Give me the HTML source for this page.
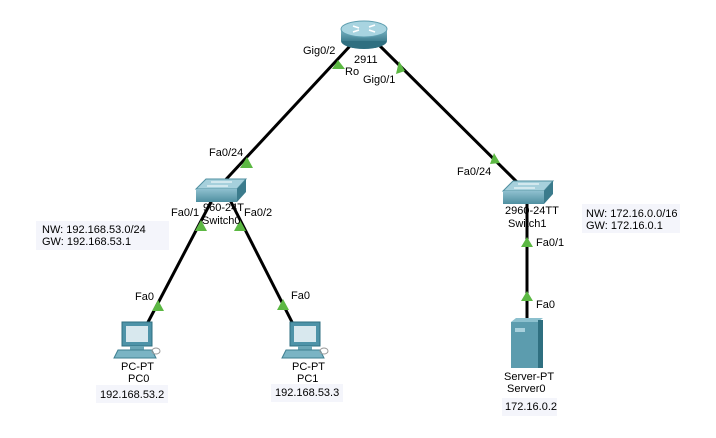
<!DOCTYPE html>
<html><head><meta charset="utf-8"><style>
html,body{margin:0;padding:0;background:#fff;}
svg{display:block;}
text{font-family:"Liberation Sans",Arial,sans-serif;font-size:11px;fill:#000;}
</style></head><body>
<svg width="716" height="438" viewBox="0 0 716 438" xmlns="http://www.w3.org/2000/svg">
<defs>
<linearGradient id="rt" x1="0" y1="0" x2="0" y2="1"><stop offset="0" stop-color="#7fb6c6"/><stop offset="1" stop-color="#3f7f90"/></linearGradient>
<linearGradient id="sw" x1="0" y1="0" x2="0" y2="1"><stop offset="0" stop-color="#8fc0cf"/><stop offset="1" stop-color="#4f8fa0"/></linearGradient>
</defs>
<g stroke="#000" stroke-width="3" fill="none">
<line x1="350" y1="46" x2="218" y2="188"/>
<line x1="380" y1="46" x2="527" y2="192"/>
<line x1="212" y1="200" x2="146" y2="326"/>
<line x1="230" y1="200" x2="294" y2="326"/>
<line x1="527" y1="200" x2="527" y2="322"/>
</g>
<g fill="#5cb843">
<polygon points="338,60 332,69 345,69"/>
<polygon points="399,61 396,74 405,71"/>
<polygon points="247,157 240,168 253,168"/>
<polygon points="494,153 490,164 500,163"/>
<polygon points="201,220 195,231 207,231"/>
<polygon points="240,220 234,231 246,231"/>
<polygon points="158,300 152,311 164,311"/>
<polygon points="283,299 277,310 289,310"/>
<polygon points="527,237 521,247 533,247"/>
<polygon points="527,291 521,301 533,301"/>
</g>
<!-- router -->
<ellipse cx="364" cy="41" rx="23" ry="8" fill="#2f6f80"/>
<rect x="341" y="29" width="46" height="12" fill="url(#rt)"/>
<ellipse cx="364" cy="29" rx="23" ry="8" fill="#a8d4e0" stroke="#5f9fb0"/>
<g stroke="#fff" stroke-width="1.5"><line x1="353" y1="26" x2="359" y2="28"/><line x1="369" y1="30" x2="375" y2="32"/><line x1="369" y1="27" x2="375" y2="25"/><line x1="353" y1="32" x2="359" y2="30"/></g>
<!-- switch0 -->
<polygon points="206,179 246,179 237,189 196,189" fill="#a6d0dc" stroke="#4f8fa0"/>
<rect x="196" y="189" width="41" height="13" fill="url(#sw)"/>
<polygon points="237,189 246,179 246,192 237,202" fill="#3b7b8c"/>
<g stroke="#fff"><line x1="211" y1="182" x2="232" y2="182"/><line x1="207" y1="186" x2="228" y2="186"/></g>
<!-- switch1 -->
<polygon points="513,181 553,181 544,191 503,191" fill="#a6d0dc" stroke="#4f8fa0"/>
<rect x="503" y="191" width="41" height="13" fill="url(#sw)"/>
<polygon points="544,191 553,181 553,194 544,204" fill="#3b7b8c"/>
<g stroke="#fff"><line x1="518" y1="184" x2="539" y2="184"/><line x1="514" y1="188" x2="535" y2="188"/></g>
<g>
<rect x="122" y="322" width="30" height="24" fill="#4e93a8" stroke="#2f6f80"/>
<rect x="126" y="326" width="22" height="16" fill="#d8e8ee"/>
<rect x="130" y="346" width="14" height="4" fill="#6aa6b6"/>
<polygon points="118,350 152,350 156,358 114,358" fill="#7ab4c4" stroke="#3f7f90"/>
<ellipse cx="156" cy="351" rx="4" ry="3" fill="none" stroke="#999"/>
</g>
<g transform="translate(168,0)">
<rect x="122" y="322" width="30" height="24" fill="#4e93a8" stroke="#2f6f80"/>
<rect x="126" y="326" width="22" height="16" fill="#d8e8ee"/>
<rect x="130" y="346" width="14" height="4" fill="#6aa6b6"/>
<polygon points="118,350 152,350 156,358 114,358" fill="#7ab4c4" stroke="#3f7f90"/>
<ellipse cx="156" cy="351" rx="4" ry="3" fill="none" stroke="#999"/>
</g>
<rect x="511" y="322" width="27" height="46" fill="#5c9cae"/>
<polygon points="511,322 538,322 543,318 516,318" fill="#8cc0ce"/>
<rect x="538" y="320" width="5" height="48" fill="#2f6f80"/>
<rect x="515" y="328" width="10" height="4" fill="#a8d0dc"/>
<rect x="36" y="221" width="133" height="29" fill="#f4f5fb"/>
<rect x="582" y="204" width="98" height="29" fill="#f4f5fb"/>
<rect x="96" y="385" width="72" height="18" fill="#f4f5fb"/>
<rect x="271" y="384" width="72" height="18" fill="#f4f5fb"/>
<rect x="502" y="398" width="55" height="18" fill="#f4f5fb"/>
<text x="303" y="54">Gig0/2</text>
<text x="354" y="63">2911</text>
<text x="345" y="75">Ro</text>
<text x="363" y="83">Gig0/1</text>
<text x="209" y="156">Fa0/24</text>
<text x="457" y="175">Fa0/24</text>
<text x="171" y="216">Fa0/1</text>
<text x="203" y="211">960-24T</text>
<text x="202" y="224">Switch0</text>
<text x="244" y="216">Fa0/2</text>
<text x="505" y="214">2960-24TT</text>
<text x="508" y="227">Switch1</text>
<text x="536" y="246">Fa0/1</text>
<text x="536" y="308">Fa0</text>
<text x="42" y="233">NW: 192.168.53.0/24</text>
<text x="42" y="245">GW: 192.168.53.1</text>
<text x="586" y="217">NW: 172.16.0.0/16</text>
<text x="586" y="229">GW: 172.16.0.1</text>
<text x="135" y="300">Fa0</text>
<text x="291" y="299">Fa0</text>
<text x="121" y="370">PC-PT</text>
<text x="128" y="382">PC0</text>
<text x="100" y="398">192.168.53.2</text>
<text x="292" y="370">PC-PT</text>
<text x="297" y="382">PC1</text>
<text x="275" y="396">192.168.53.3</text>
<text x="504" y="380">Server-PT</text>
<text x="507" y="392">Server0</text>
<text x="505" y="410">172.16.0.2</text>
</svg>
</body></html>
